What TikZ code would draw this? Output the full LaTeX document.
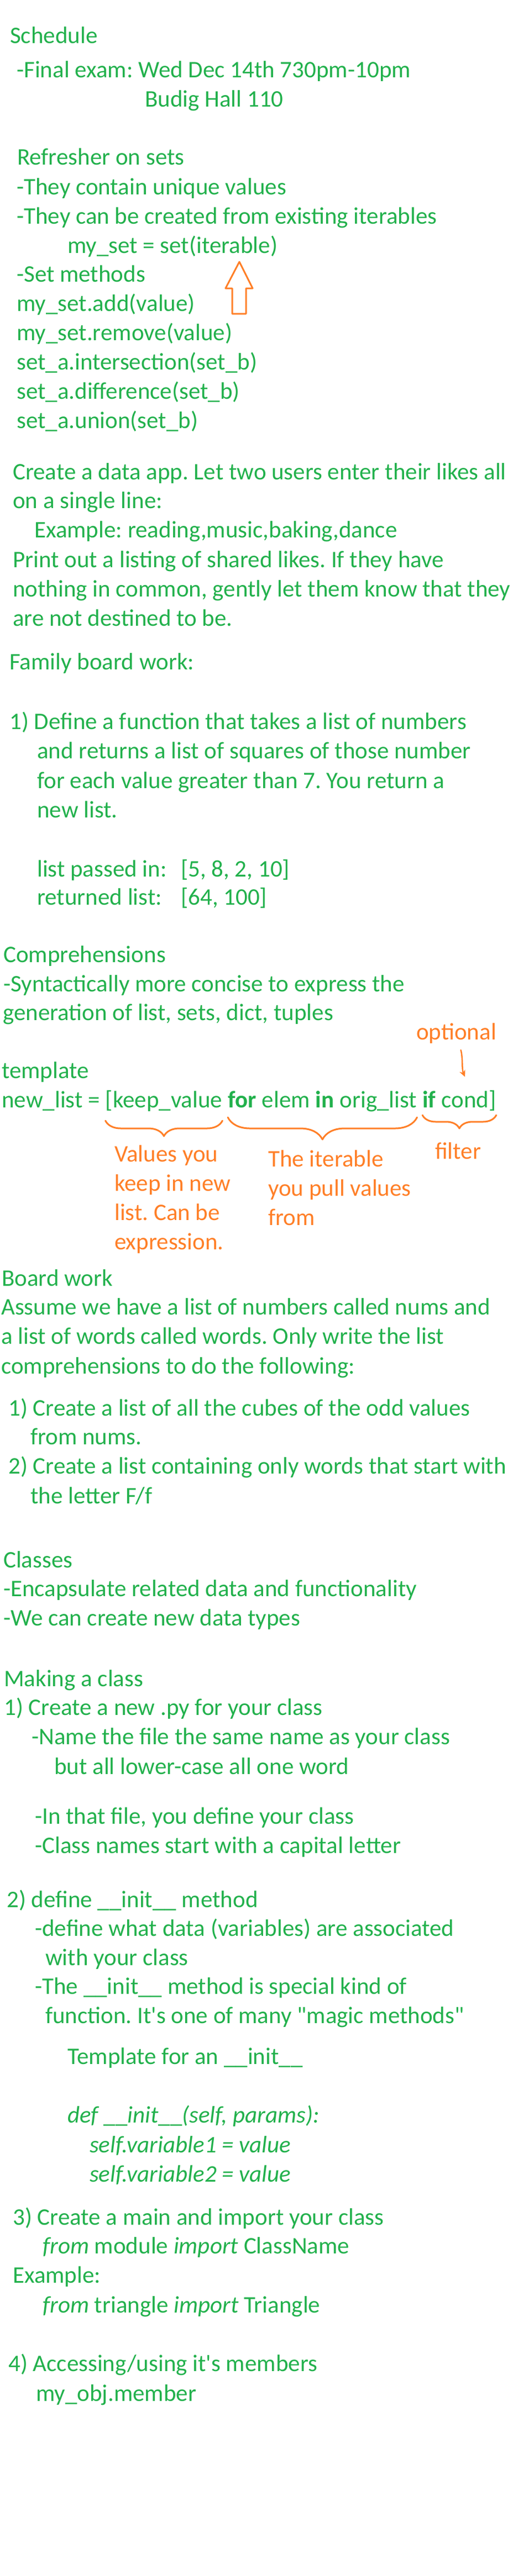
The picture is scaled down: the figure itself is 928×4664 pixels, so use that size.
\documentclass[tikz,border=0pt]{standalone}
\usepackage{fontspec}
\setmainfont{Carlito}[Ligatures=TeXOff]
\usetikzlibrary{positioning,decorations.pathreplacing,arrows.meta}
\definecolor{penGreen}{RGB}{34,177,76}
\definecolor{penOrange}{RGB}{255,127,39}
\frenchspacing

\begin{document}
\begin{tikzpicture}[x=1pt,y=-1pt,
	note node/.style={anchor=base west,inner sep=0pt,text=penGreen,font=\fontsize{43}{53}\selectfont},
	mark node/.style={note node,text=penOrange},
	mark line/.style={draw=penOrange,line width=3pt,line cap=round,line join=round},
	brace mark/.style={mark line,decorate,decoration={brace,mirror,amplitude=#1}}
]

	\def \lh {53}
	\def \wgap {9.7pt}

	\useasboundingbox (0,0) rectangle (928,4664);
	\fill[white] (0,0) rectangle (928,4664);

	% schedule and sets
	\node[note node] at (18,78) (sched) {Schedule};
	\node[note node] at (30,140) (exam) {-Final exam: Wed Dec 14th 730pm-10pm};
	\node[note node] at (262,193) (hall) {Budig Hall 110};
	\node[note node] at (31,298) (refr) {Refresher on sets};
	\node[note node] at (30,352) (uniq) {-They contain unique values};
	\node[note node] at (30,405) (iters) {-They can be created from existing iterables};
	\node[note node] at (122,458) (mkset) {my\_set = set(iterable)};
	\node[note node] at (30,510) (smeth) {-Set methods};
	\foreach \t [count=\i from 0] in {my\_set.add(value), my\_set.remove(value), set\_a.intersection(set\_b), set\_a.difference(set\_b), set\_a.union(set\_b)} {
		\node[note node] at (30,{563+\i*\lh}) (meth\i) {\t};
	}

	\coordinate (up) at (433,474);
	\draw[mark line] (up) -- ++(24,48) -- ++(-12,0) -- ++(0,46) -- ++(-25,0) -- ++(0,-46) -- ++(-12,0) -- cycle;

	% data app
	\node[note node] at (23,868) (app1) {Create a data app. Let two users enter their likes all};
	\node[note node] at (23,920) (app2) {on a single line:};
	\node[note node] at (62,973) (app3) {Example: reading,music,baking,dance};
	\node[note node] at (23,1027) (app4) {Print out a listing of shared likes. If they have};
	\node[note node] at (23,1080) (app5) {nothing in common, gently let them know that they};
	\node[note node] at (23,1133) (app6) {are not destined to be.};

	\node[note node] at (17,1212) (fam) {Family board work:};
	\node[note node] at (17,1320) (fam1) {1) Define a function that takes a list of numbers};
	\node[note node] at (67,1373) (fam2) {and returns a list of squares of those number};
	\node[note node] at (67,1427) (fam3) {for each value greater than 7. You return a};
	\node[note node] at (67,1480) (fam4) {new list.};
	\node[note node] at (67,1587) (passin) {list passed in:};
	\node[note node] at (327,1587) (passval) {[5, 8, 2, 10]};
	\node[note node] at (67,1638) (retd) {returned list:};
	\node[note node] at (327,1638) (retval) {[64, 100]};

	% comprehensions
	\node[note node] at (6,1742) (comp) {Comprehensions};
	\node[note node] at (6,1795) (comp1) {-Syntactically more concise to express the};
	\node[note node] at (5,1847) (comp2) {generation of list, sets, dict, tuples};
	\node[note node] at (3,1952) (tmpl) {template};
	\node[note node] at (3,2005) (nl) {new\_list =};
	\node[note node,base right=\wgap of nl] (kv) {[keep\_value};
	\node[note node,base right=\wgap of kv] (fr) {\textbf{for}};
	\node[note node,base right=\wgap of fr] (el) {elem};
	\node[note node,base right=\wgap of el] (inn) {\textbf{in}};
	\node[note node,base right=\wgap of inn] (ol) {orig\_list};
	\node[note node,base right=\wgap of ol] (iff) {\textbf{if}};
	\node[note node,base right=\wgap of iff] (cd) {cond]};

	\node[mark node] at (753,1882) (opt) {optional};
	\draw[mark line,line width=2.5pt,-{Stealth[length=12pt,width=11pt]}] ([xshift=8pt,yshift=-12pt]opt.south) .. controls +(4,14) and +(-6,-14) .. ([xshift=-7pt,yshift=24pt]cd.north);

	\draw[brace mark=28pt] ([yshift=-24pt]kv.base west) -- ([yshift=-24pt]kv.base east);
	\draw[brace mark=40pt] ([yshift=-18pt]fr.base west) -- ([yshift=-18pt]ol.base east);
	\draw[brace mark=24pt] ([yshift=-14pt]iff.base west) -- ([yshift=-14pt]cd.base east);

	\foreach \t [count=\i from 0] in {Values you, keep in new, list. Can be, expression.} {
		\node[mark node] at (207,{2103+\i*\lh}) (keep\i) {\t};
	}
	\foreach \t [count=\i from 0] in {The iterable, you pull values, from} {
		\node[mark node] at (485,{2112+\i*\lh}) (pull\i) {\t};
	}
	\node[mark node] at (787,2098) (filt) {filter};

	% board work
	\node[note node] at (3,2328) (bw) {Board work};
	\node[note node] at (2,2380) (bw1) {Assume we have a list of numbers called nums and};
	\node[note node] at (2,2433) (bw2) {a list of words called words. Only write the list};
	\node[note node] at (2,2487) (bw3) {comprehensions to do the following:};
	\node[note node] at (15,2563) (bw4) {1) Create a list of all the cubes of the odd values};
	\node[note node] at (55,2615) (bw5) {from nums.};
	\node[note node] at (15,2668) (bw6) {2) Create a list containing only words that start with};
	\node[note node] at (55,2722) (bw7) {the letter F/f};

	% classes
	\node[note node] at (6,2838) (cls) {Classes};
	\node[note node] at (6,2890) (cls1) {-Encapsulate related data and functionality};
	\node[note node] at (6,2943) (cls2) {-We can create new data types};
	\node[note node] at (7,3053) (mk) {Making a class};
	\node[note node] at (7,3105) (mk1) {1) Create a new .py for your class};
	\node[note node] at (57,3158) (mk2) {-Name the file the same name as your class};
	\node[note node] at (98,3212) (mk3) {but all lower-case all one word};
	\node[note node] at (63,3302) (mk4) {-In that file, you define your class};
	\node[note node] at (63,3355) (mk5) {-Class names start with a capital letter};
	\node[note node] at (12,3453) (ini) {2) define \_\_init\_\_ method};
	\node[note node] at (63,3505) (ini1) {-define what data (variables) are associated};
	\node[note node] at (82,3558) (ini2) {with your class};
	\node[note node] at (63,3610) (ini3) {-The \_\_init\_\_ method is special kind of};
	\node[note node] at (82,3663) (ini4) {function. It's one of many "magic methods"};
	\node[note node] at (122,3737) (ini5) {Template for an \_\_init\_\_};
	\node[note node] at (122,3843) (code1) {\textit{def {\upshape\_\_}init{\upshape\_\_}(self, params):}};
	\node[note node] at (162,3897) (code2) {\textit{self.variable1 = value}};
	\node[note node] at (162,3950) (code3) {\textit{self.variable2 = value}};
	\node[note node] at (23,4028) (imp) {3) Create a main and import your class};
	\node[note node] at (77,4080) (imp1) {\textit{from} module \textit{import} ClassName};
	\node[note node] at (23,4133) (imp2) {Example:};
	\node[note node] at (77,4187) (imp3) {\textit{from} triangle \textit{import} Triangle};
	\node[note node] at (15,4293) (acc) {4) Accessing/using it's members};
	\node[note node] at (65,4347) (acc1) {my\_obj.member};
\end{tikzpicture}
\end{document}
